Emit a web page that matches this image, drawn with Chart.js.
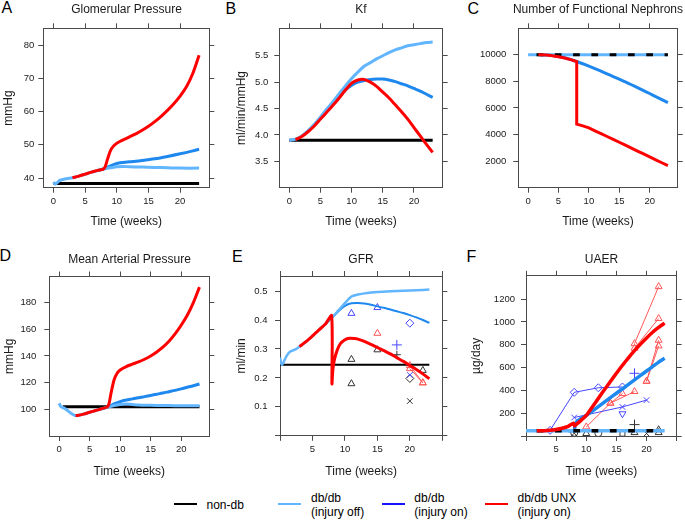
<!DOCTYPE html>
<html><head><meta charset="utf-8">
<script src="https://cdn.jsdelivr.net/npm/chart.js@4.4.1/dist/chart.umd.min.js"></script>
<style>
html,body{margin:0;padding:0;background:#fff;overflow:hidden;width:685px;height:520px;}
#wrap{position:relative;width:685px;height:520px;overflow:hidden;font-family:"Liberation Sans",Arial,sans-serif;color:#000;}
#wrap canvas{position:absolute;}
.lt{position:absolute;font-size:16px;line-height:16px;}
.lg{position:absolute;font-size:12px;line-height:14px;white-space:nowrap;}
.ll{position:absolute;height:2px;width:23px;top:503px;}
</style></head><body><div id="wrap">
<div class="lt" style="left:1.5px;top:-0.4px">A</div>
<div class="lt" style="left:225.5px;top:0.6px">B</div>
<div class="lt" style="left:467.5px;top:1px">C</div>
<div class="lt" style="left:-0.5px;top:248px">D</div>
<div class="lt" style="left:232px;top:248.6px">E</div>
<div class="lt" style="left:466.5px;top:248.6px">F</div>
<div class="ll" style="left:174px;background:#000"></div>
<div class="lg" style="left:206.5px;top:498px">non-db</div>
<div class="ll" style="left:278px;background:#62b5ff"></div>
<div class="lg" style="left:311px;top:491.3px">db/db<br>(injury off)</div>
<div class="ll" style="left:381.5px;background:#1515ff"></div>
<div class="lg" style="left:414.3px;top:491.3px">db/db<br>(injury on)</div>
<div class="ll" style="left:485px;background:#ff0000"></div>
<div class="lg" style="left:517.5px;top:491.3px">db/db UNX<br>(injury on)</div>
</div>
<script>
// ---------- DATA ----------
// common tick values
const xTicksWeeks = [0, 5, 10, 15, 20];
const xTickLabelsWeeks = ['0', '5', '10', '15', '20'];
const xTicksWeeks25 = [0, 5, 10, 15, 20, 25];
const xTickLabelsWeeks25 = ['', '5', '10', '15', '20', ''];

// A: Glomerular Pressure (mmHg)
const gpTicks = [40, 50, 60, 70, 80];
const gpTickLabels = ['40', '50', '60', '70', '80'];
const gpNonDbX = [0, 23];
const gpNonDb = [38.4, 38.4];
const gpOffX = [0, 0.3, 1, 2, 3, 4, 5, 6, 7, 8, 9, 10, 11, 12, 14, 16, 18, 20, 23];
const gpOff = [38.8, 38.2, 39.3, 39.8, 40.1, 40.6, 41.2, 41.8, 42.3, 42.8, 43.1, 43.4, 43.5, 43.4, 43.3, 43.2, 43.1, 43.0, 43.0];
const gpOnX = [7, 8, 9, 10, 11, 12, 14, 16, 18, 20, 22, 23];
const gpOn = [42.3, 42.8, 43.7, 44.4, 44.7, 44.9, 45.3, 45.8, 46.5, 47.3, 48.2, 48.7];
const gpUnxX = [3, 4, 5, 6, 7, 8, 8.5, 9, 9.5, 10, 11, 12, 13, 14, 15, 16, 17, 18, 19, 20, 21, 22, 23];
const gpUnx = [40.1, 40.6, 41.2, 41.8, 42.3, 42.9, 45.5, 48.3, 49.7, 50.5, 51.5, 52.4, 53.3, 54.4, 55.6, 57.0, 58.6, 60.4, 62.4, 64.7, 67.5, 71.5, 77.0];

// B: Kf (ml/min/mmHg)
const kfTicks = [3.5, 4.0, 4.5, 5.0, 5.5];
const kfTickLabels = ['3.5', '4.0', '4.5', '5.0', '5.5'];
const kfNonDbX = [0, 23];
const kfNonDb = [3.9, 3.9];
const kfOffX = [0, 1, 2, 3, 4, 5, 6, 7, 8, 9, 10, 11, 12, 13, 14, 15, 16, 17, 18, 19, 20, 21, 22, 23];
const kfOff = [3.9, 3.92, 3.98, 4.08, 4.2, 4.34, 4.49, 4.63, 4.78, 4.93, 5.07, 5.19, 5.3, 5.37, 5.44, 5.5, 5.56, 5.61, 5.65, 5.69, 5.71, 5.73, 5.75, 5.76];
const kfOnX = [7, 8, 9, 10, 11, 12, 13, 14, 15, 16, 17, 18, 19, 20, 21, 22, 23];
const kfOn = [4.62, 4.73, 4.85, 4.94, 5.0, 5.03, 5.05, 5.06, 5.06, 5.04, 5.01, 4.97, 4.93, 4.88, 4.83, 4.77, 4.71];
const kfUnxX = [1, 2, 3, 4, 5, 6, 7, 8, 9, 10, 11, 12, 13, 14, 15, 16, 17, 18, 19, 20, 21, 22, 23];
const kfUnx = [3.91, 3.97, 4.06, 4.17, 4.3, 4.43, 4.56, 4.7, 4.85, 4.98, 5.04, 5.05, 5.0, 4.92, 4.81, 4.7, 4.57, 4.44, 4.3, 4.14, 3.98, 3.82, 3.67];

// C: Number of Functional Nephrons
const nnTicks = [2000, 4000, 6000, 8000, 10000];
const nnTickLabels = ['2000', '4000', '6000', '8000', '10000'];
const nnNonDbX = [0, 23];
const nnNonDb = [10000, 10000];
const nnOffX = [0, 23];
const nnOff = [10000, 10000];
const nnOnX = [2, 3, 4, 5, 6, 7, 8, 9, 10, 11, 12, 13, 14, 15, 16, 17, 18, 19, 20, 21, 22, 23];
const nnOn = [10000, 9990, 9950, 9880, 9780, 9650, 9500, 9330, 9150, 8960, 8770, 8570, 8370, 8170, 7960, 7750, 7530, 7310, 7090, 6860, 6630, 6400];
const nnUnxX = [1.7, 3, 4, 5, 6, 7, 8, 8, 9, 10, 11, 12, 13, 14, 15, 16, 17, 18, 19, 20, 21, 22, 23];
const nnUnx = [10000, 9990, 9940, 9860, 9760, 9640, 9500, 4790, 4650, 4500, 4285, 4070, 3855, 3640, 3420, 3200, 2980, 2760, 2540, 2320, 2100, 1880, 1660];

// D: Mean Arterial Pressure (mmHg)
const mapTicks = [100, 120, 140, 160, 180];
const mapTickLabels = ['100', '120', '140', '160', '180'];
const mapNonDbX = [0.6, 23];
const mapNonDb = [102, 102];
const mapOffX = [0, 0.3, 1, 2, 2.7, 3, 4, 5, 6, 7, 8, 9, 10, 11, 12, 13, 14, 16, 18, 20, 23];
const mapOff = [104.5, 102, 100.5, 96.8, 95.2, 95.3, 96.4, 97.8, 99.1, 100.4, 101.6, 102.8, 103.6, 103.9, 103.6, 103.3, 103.1, 102.9, 102.8, 102.7, 102.6];
const mapOnX = [7, 8, 9, 10, 11, 12, 13, 14, 15, 16, 17, 18, 19, 20, 21, 22, 23];
const mapOn = [100.4, 101.8, 104, 105.8, 107, 107.8, 108.6, 109.5, 110.4, 111.3, 112.2, 113.2, 114.2, 115.3, 116.5, 117.7, 119];
const mapUnxX = [2.7, 3, 4, 5, 6, 7, 8, 8.5, 9, 9.5, 10, 11, 12, 13, 14, 15, 16, 17, 18, 19, 20, 21, 22, 23];
const mapUnx = [95.3, 95.4, 96.4, 97.8, 99.1, 100.5, 102.3, 112, 122, 127, 129.5, 132, 133.8, 135.5, 137.5, 140, 143, 146.5, 151, 156.5, 163, 170.5, 180, 191.5];

// E: GFR (ml/min)
const gfrTicks = [0, 0.1, 0.2, 0.3, 0.4, 0.5];
const gfrTickLabels = ['', '0.1', '0.2', '0.3', '0.4', '0.5'];
const gfrNonDbX = [0, 23];
const gfrNonDb = [0.245, 0.245];
const gfrOffX = [0, 0.3, 1, 1.5, 2, 2.5, 3, 4, 5, 6, 7, 8, 9, 10, 11, 12, 13, 14, 15, 17, 19, 21, 23];
const gfrOff = [0.27, 0.245, 0.275, 0.29, 0.295, 0.3, 0.308, 0.325, 0.345, 0.366, 0.386, 0.408, 0.433, 0.458, 0.481, 0.488, 0.492, 0.495, 0.497, 0.499, 0.501, 0.503, 0.505];
const gfrOnX = [7, 8, 9, 10, 11, 12, 13, 14, 15, 16, 17, 18, 19, 20, 21, 22, 23];
const gfrOn = [0.386, 0.408, 0.43, 0.449, 0.458, 0.459, 0.457, 0.453, 0.447, 0.442, 0.436, 0.43, 0.424, 0.417, 0.409, 0.4, 0.39];
const gfrUnxX = [3, 4, 5, 6, 7, 7.95, 8, 8.15, 8.4, 8.8, 9.3, 10, 10.7, 11.5, 12, 13, 14, 15, 16, 17, 18, 19, 20, 21, 22, 23];
const gfrUnx = [0.308, 0.325, 0.345, 0.366, 0.386, 0.415, 0.18, 0.23, 0.265, 0.295, 0.318, 0.332, 0.337, 0.336, 0.334, 0.326, 0.316, 0.305, 0.294, 0.283, 0.27, 0.257, 0.243, 0.229, 0.214, 0.197];
// GFR observed points
const gfrObsBlueTriX = [11, 15], gfrObsBlueTri = [0.423, 0.443];
const gfrObsBlueDiaX = [20], gfrObsBlueDia = [0.389];
const gfrObsBluePlusX = [18], gfrObsBluePlus = [0.314];
const gfrObsBlueCrossX = [20], gfrObsBlueCross = [0.21];
const gfrObsRedTriX = [15], gfrObsRedTri = [0.354];
const gfrObsRedLine1X = [20, 22], gfrObsRedLine1 = [0.243, 0.183];
const gfrObsRedLine2X = [20, 22], gfrObsRedLine2 = [0.232, 0.183];
const gfrObsBlkTriX = [11, 11, 15, 22], gfrObsBlkTri = [0.264, 0.18, 0.297, 0.226];
const gfrObsBlkPlusX = [18], gfrObsBlkPlus = [0.28];
const gfrObsBlkDiaX = [20], gfrObsBlkDia = [0.198];
const gfrObsBlkCrossX = [20], gfrObsBlkCross = [0.12];

// F: UAER (µg/day)
const uaTicks = [0, 200, 400, 600, 800, 1000, 1200];
const uaTickLabels = ['', '200', '400', '600', '800', '1000', '1200'];
const uaNonDbX = [0, 23];
const uaNonDb = [45, 45];
const uaOffX = [0, 23];
const uaOff = [45, 45];
const uaOnX = [7, 8, 8.15, 8.5, 9, 10, 11, 12, 13, 14, 15, 16, 17, 18, 19, 20, 21, 22, 23];
const uaOn = [46, 48, 100, 130, 150, 180, 219, 258, 297, 336, 375, 414, 453, 492, 531, 570, 609, 648, 682];
const uaUnxX = [1.8, 3, 4, 5, 6, 7, 7.9, 8.05, 8.3, 9, 10, 11, 12, 13, 14, 15, 16, 17, 18, 19, 20, 21, 22, 23];
const uaUnx = [45, 46, 50, 57, 68, 85, 112, 88, 100, 130, 180, 255, 330, 405, 478, 550, 620, 686, 748, 806, 860, 910, 952, 990];
// UAER observed points
const uaObsBlueDiaX = [4, 8, 12, 16], uaObsBlueDia = [50, 383, 423, 430];
const uaObsBlueCrossX = [8, 16, 20], uaObsBlueCross = [162, 255, 315];
const uaObsBlueInvX = [16], uaObsBlueInv = [195];
const uaObsBluePlusX = [18], uaObsBluePlus = [550];
const uaObsRed1X = [18, 22], uaObsRed1 = [810, 1310];
const uaObsRed2X = [18, 22], uaObsRed2 = [770, 1030];
const uaObsRed3X = [20, 22], uaObsRed3 = [480, 840];
const uaObsRed4X = [20, 22], uaObsRed4 = [480, 790];
const uaObsRed5X = [10, 14, 18], uaObsRed5 = [80, 288, 390];
const uaObsRed6X = [14, 16], uaObsRed6 = [288, 372];
const uaObsBlkCircX = [8, 12], uaObsBlkCirc = [28, 25];
const uaObsBlkTriX = [10, 18, 22, 22], uaObsBlkTri = [22, 30, 30, 55];
const uaObsBlkCrossX = [8, 20], uaObsBlkCross = [25, 22];
const uaObsBlkSqX = [16], uaObsBlkSq = [20];
const uaObsBlkPlusX = [18], uaObsBlkPlus = [100];

// ---------- STYLE ----------
Chart.defaults.font.family = "'Liberation Sans', Arial, sans-serif";
Chart.defaults.font.weight = 400;
Chart.defaults.color = '#000';
const BOX = '#4a4a4a';
const TXT = '#1a1a1a';
const C_NON = '#000000', C_OFF = '#62b5ff', C_ON = '#1e88ee', C_UNX = '#ff0000';
const M_B = '#4646ff', M_R = '#ff5555', M_K = '#333333';

function pts(xs, ys) { return xs.map((x, i) => ({x: x, y: ys[i]})); }
function lineDs(xs, ys, color, width, extra) {
  return Object.assign({data: pts(xs, ys), borderColor: color, backgroundColor: color, borderWidth: width,
    pointRadius: 0, tension: 0.3, fill: false, xAxisID: 'x', yAxisID: 'y'}, extra || {});
}
function markDs(xs, ys, color, style, extra) {
  return Object.assign({data: pts(xs, ys), borderColor: color, backgroundColor: color, borderWidth: 1,
    showLine: false, tension: 0, pointStyle: style, pointRadius: 4, pointBorderColor: color,
    pointBackgroundColor: 'rgba(0,0,0,0)', pointBorderWidth: 1, xAxisID: 'x', yAxisID: 'y'}, extra || {});
}

const wrap = document.getElementById('wrap');

function mkScale(pos, min, max, tv, tl, size, showLabels, title, tpad, lpad) {
  const horiz = (pos === 'top' || pos === 'bottom');
  return {
    type: 'linear', position: pos, min: min, max: max,
    afterBuildTicks: s => { s.ticks = tv.map(v => ({value: v})); },
    afterFit: s => { if (horiz) s.height = size; else s.width = size; },
    ticks: {display: showLabels, autoSkip: false, maxRotation: 0, minRotation: 0, padding: lpad,
      font: {size: 9.5, weight: 400}, color: TXT, callback: (v, i) => tl[i]},
    grid: {display: true, drawOnChartArea: false, drawTicks: true, tickLength: 5, tickWidth: 1, color: BOX, tickColor: BOX},
    border: {display: true, color: BOX, width: 1},
    title: title ? {display: true, text: title, font: {size: 12, weight: 400}, color: TXT,
      padding: horiz ? {top: 0, bottom: tpad} : {top: tpad, bottom: 0}} : {display: false}
  };
}

function panel(p) {
  const cx = (p.boxL + p.boxR) / 2;
  const W = Math.round(2 * (cx - p.cL));
  const H = Math.round(p.cB - p.cT);
  const cv = document.createElement('canvas');
  cv.width = W; cv.height = H;
  cv.style.left = p.cL + 'px'; cv.style.top = p.cT + 'px';
  cv.style.width = W + 'px'; cv.style.height = H + 'px';
  wrap.appendChild(cv);
  const yW = p.boxL - p.cL, y2W = p.cL + W - p.boxR;
  const tPad = p.titleY - p.cT - 7.2;
  const x2H = p.boxT - p.cT - tPad - 14.4;
  const xH = p.cT + H - p.boxB;
  const n = p.datasets.length;
  p.datasets.forEach((d, i) => { d.order = n - i; });
  new Chart(cv, {
    type: 'line',
    data: {datasets: p.datasets},
    options: {
      responsive: false, animation: false, events: [], devicePixelRatio: 1,
      layout: {padding: 0},
      plugins: {legend: {display: false}, tooltip: {enabled: false},
        title: {display: true, text: p.title, font: {size: 12, weight: 400}, color: TXT, padding: {top: tPad, bottom: 0}}},
      scales: {
        x: mkScale('bottom', p.xMin, p.xMax, p.xt, p.xl, xH, true, 'Time (weeks)', 0, 3),
        x2: mkScale('top', p.xMin, p.xMax, p.xt, p.xl, x2H, false, null, 0, 3),
        y: mkScale('left', p.yMin, p.yMax, p.yt, p.yl, yW, true, p.yTitle, p.yTitlePad, p.lpad),
        y2: mkScale('right', p.yMin, p.yMax, p.yt, p.yl, y2W, false, null, 0, 3)
      }
    }
  });
}

const XMIN = -1.61, XMAX = 24.61;

// A
panel({title: 'Glomerular Pressure', boxL: 43.3, boxR: 209.3, boxT: 28.3, boxB: 187.7, cL: 0, cT: 0, cB: 229.2, titleY: 9.3,
  xMin: XMIN, xMax: XMAX, xt: xTicksWeeks, xl: xTickLabelsWeeks, yMin: 37.1, yMax: 85.1, yt: gpTicks, yl: gpTickLabels,
  yTitle: 'mmHg', yTitlePad: 1.8, lpad: 4,
  datasets: [
    lineDs(gpNonDbX, gpNonDb, C_NON, 3, {tension: 0}),
    lineDs(gpOnX, gpOn, C_ON, 3),
    lineDs(gpOffX, gpOff, C_OFF, 3),
    lineDs(gpUnxX, gpUnx, C_UNX, 3)
  ]});

// B
panel({title: 'Kf', boxL: 279.3, boxR: 442.7, boxT: 28.3, boxB: 187.7, cL: 230, cT: 0, cB: 229.2, titleY: 9.3,
  xMin: XMIN, xMax: XMAX, xt: xTicksWeeks, xl: xTickLabelsWeeks, yMin: 3.0, yMax: 6.02, yt: kfTicks, yl: kfTickLabels,
  yTitle: 'ml/min/mmHg', yTitlePad: 4.5, lpad: 6,
  datasets: [
    lineDs(kfNonDbX, kfNonDb, C_NON, 3, {tension: 0}),
    lineDs(kfOnX, kfOn, C_ON, 3),
    lineDs(kfOffX, kfOff, C_OFF, 3),
    lineDs(kfUnxX, kfUnx, C_UNX, 3)
  ]});

// C
panel({title: 'Number of Functional Nephrons', boxL: 518.3, boxR: 677.7, boxT: 28.3, boxB: 187.7, cL: 470, cT: 0, cB: 229.2, titleY: 9.3,
  xMin: XMIN, xMax: XMAX, xt: xTicksWeeks, xl: xTickLabelsWeeks, yMin: 0, yMax: 12000, yt: nnTicks, yl: nnTickLabels,
  yTitle: null, yTitlePad: 0, lpad: 7,
  datasets: [
    lineDs(nnOnX, nnOn, C_ON, 3, {tension: 0.2}),
    lineDs(nnOffX, nnOff, C_OFF, 3, {tension: 0}),
    lineDs(nnNonDbX, nnNonDb, C_NON, 3, {tension: 0, borderDash: [6.7, 11.6], borderDashOffset: 9.9}),
    lineDs(nnUnxX, nnUnx, C_UNX, 3, {tension: 0})
  ]});

// D
panel({title: 'Mean Arterial Pressure', boxL: 49.3, boxR: 209.3, boxT: 276.5, boxB: 436, cL: 0, cT: 250, cB: 479, titleY: 259.4,
  xMin: XMIN, xMax: XMAX, xt: xTicksWeeks, xl: xTickLabelsWeeks, yMin: 80, yMax: 199.5, yt: mapTicks, yl: mapTickLabels,
  yTitle: 'mmHg', yTitlePad: 2.8, lpad: 8,
  datasets: [
    lineDs(mapNonDbX, mapNonDb, C_NON, 3, {tension: 0}),
    lineDs(mapOnX, mapOn, C_ON, 3),
    lineDs(mapOffX, mapOff, C_OFF, 3),
    lineDs(mapUnxX, mapUnx, C_UNX, 3)
  ]});

// E
panel({title: 'GFR', boxL: 280, boxR: 442.3, boxT: 276, boxB: 435.8, cL: 230, cT: 250, cB: 479, titleY: 259.2,
  xMin: 0, xMax: 25, xt: xTicksWeeks25, xl: xTickLabelsWeeks25, yMin: 0, yMax: 0.552, yt: gfrTicks, yl: gfrTickLabels,
  yTitle: 'ml/min', yTitlePad: 4.5, lpad: 7.5,
  datasets: [
    markDs(gfrObsBlkTriX, gfrObsBlkTri, M_K, 'triangle'),
    markDs(gfrObsBlkPlusX, gfrObsBlkPlus, M_K, 'cross'),
    markDs(gfrObsBlkDiaX, gfrObsBlkDia, M_K, 'rectRot'),
    markDs(gfrObsBlkCrossX, gfrObsBlkCross, M_K, 'crossRot'),
    markDs(gfrObsRedTriX, gfrObsRedTri, M_R, 'triangle'),
    markDs(gfrObsRedLine1X, gfrObsRedLine1, M_R, 'triangle', {showLine: true}),
    markDs(gfrObsRedLine2X, gfrObsRedLine2, M_R, 'triangle', {showLine: true}),
    markDs(gfrObsBlueTriX, gfrObsBlueTri, M_B, 'triangle'),
    markDs(gfrObsBlueDiaX, gfrObsBlueDia, M_B, 'rectRot'),
    markDs(gfrObsBluePlusX, gfrObsBluePlus, M_B, 'cross', {pointRadius: 5}),
    markDs(gfrObsBlueCrossX, gfrObsBlueCross, M_B, 'crossRot'),
    lineDs(gfrNonDbX, gfrNonDb, C_NON, 2, {tension: 0}),
    lineDs(gfrOnX, gfrOn, C_ON, 2),
    lineDs(gfrOffX, gfrOff, C_OFF, 2.5, {tension: 0.25}),
    lineDs(gfrUnxX, gfrUnx, C_UNX, 3, {tension: 0.25})
  ]});

// F
panel({title: 'UAER', boxL: 526, boxR: 676.7, boxT: 275.8, boxB: 436, cL: 465, cT: 250, cB: 479, titleY: 259.2,
  xMin: 0, xMax: 25, xt: xTicksWeeks25, xl: xTickLabelsWeeks25, yMin: 0, yMax: 1405, yt: uaTicks, yl: uaTickLabels,
  yTitle: 'µg/day', yTitlePad: 4.8, lpad: 6,
  datasets: [
    markDs(uaObsBlkCircX, uaObsBlkCirc, M_K, 'circle', {pointRadius: 3.5}),
    markDs(uaObsBlkTriX, uaObsBlkTri, M_K, 'triangle'),
    markDs(uaObsBlkCrossX, uaObsBlkCross, M_K, 'crossRot'),
    markDs(uaObsBlkSqX, uaObsBlkSq, M_K, 'rect', {pointRadius: 3.5}),
    markDs(uaObsBlkPlusX, uaObsBlkPlus, M_K, 'cross', {pointRadius: 5}),
    markDs(uaObsRed1X, uaObsRed1, M_R, 'triangle', {showLine: true}),
    markDs(uaObsRed2X, uaObsRed2, M_R, 'triangle', {showLine: true}),
    markDs(uaObsRed3X, uaObsRed3, M_R, 'triangle', {showLine: true}),
    markDs(uaObsRed4X, uaObsRed4, M_R, 'triangle', {showLine: true}),
    markDs(uaObsRed5X, uaObsRed5, M_R, 'triangle', {showLine: true}),
    markDs(uaObsRed6X, uaObsRed6, M_R, 'triangle', {showLine: true}),
    markDs(uaObsBlueDiaX, uaObsBlueDia, M_B, 'rectRot', {showLine: true}),
    markDs(uaObsBlueCrossX, uaObsBlueCross, M_B, 'crossRot', {showLine: true}),
    markDs(uaObsBlueInvX, uaObsBlueInv, M_B, 'triangle', {rotation: 180, pointRotation: 180}),
    markDs(uaObsBluePlusX, uaObsBluePlus, M_B, 'cross', {pointRadius: 5}),
    lineDs(uaOnX, uaOn, C_ON, 3.5, {tension: 0.15}),
    lineDs(uaOffX, uaOff, C_OFF, 3.5, {tension: 0}),
    lineDs(uaNonDbX, uaNonDb, C_NON, 3.5, {tension: 0, borderDash: [6.7, 11.6], borderDashOffset: 7.6}),
    lineDs(uaUnxX, uaUnx, C_UNX, 3.5, {tension: 0.15})
  ]});
</script>
</body></html>
